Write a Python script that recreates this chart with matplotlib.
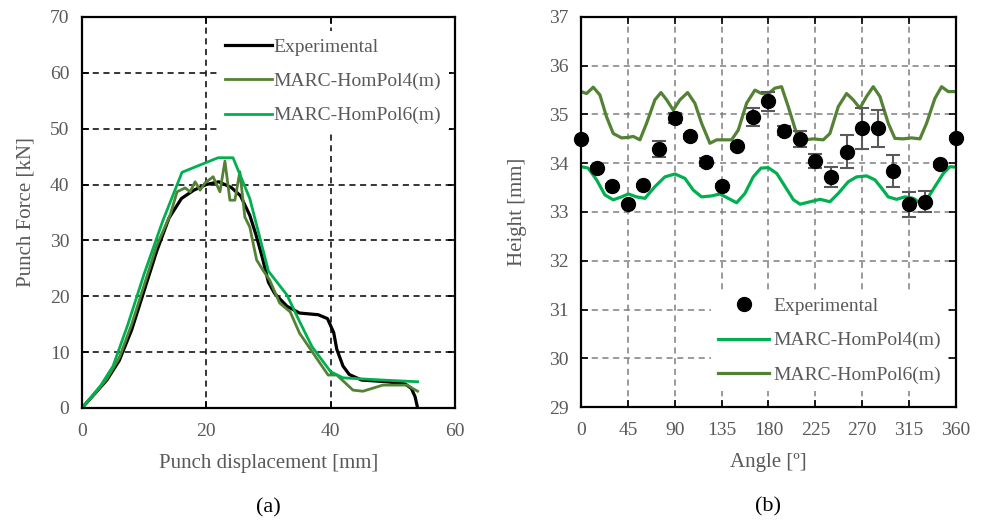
import numpy as np
import matplotlib
matplotlib.use("Agg")
import matplotlib.pyplot as plt

plt.rcParams['font.family'] = ['Liberation Serif', 'DejaVu Serif']

# ---- panel (a): punch force vs displacement
exp_x = [0, 2, 4, 6, 8, 10, 12, 14, 16, 18, 20, 22, 24, 25.5, 27, 28, 29, 30, 31, 33,
         35, 38, 39.5, 40.5, 41, 42, 43, 45, 49, 52, 53, 53.6, 54]
exp_y = [0, 2.5, 5, 8.5, 14, 21, 28, 34, 37.5, 39, 40, 40.5, 39.5, 38, 34.5, 31, 27, 22.5,
         20.5, 18.2, 17, 16.7, 16, 13.5, 10.5, 7.5, 6, 5, 4.7, 4.3, 3.5, 2, 0]

p4_x = [0, 2, 4, 6, 8, 10, 12, 14.2, 15.3, 16.6, 17.4, 18.2, 19, 19.8, 21.1, 22.2, 23, 23.8,
        24.6, 25.4, 26.2, 27, 28.1, 29.1, 30.2, 31.8, 33.5, 35, 37.2, 39.6, 41, 43.6, 45.2,
        48.4, 52.3, 54]
p4_y = [0, 2.5, 5.2, 9, 15, 22, 29, 34.6, 38.7, 39.4, 38.7, 40.5, 39, 40.3, 41.4, 38.7, 44.2,
        37.2, 37.2, 42.3, 34.2, 32.4, 26.5, 24.7, 22.9, 18.8, 17.2, 13.4, 9.8, 5.9, 5.9, 3.2,
        3.0, 4.1, 4.1, 3.0]

p6_x = [0, 3, 5, 7.4, 10, 13, 16.1, 20.1, 21.9, 24.3, 27, 30, 33, 35, 37, 40, 42, 48.4, 54]
p6_y = [0, 4, 7.5, 15, 24, 33.5, 42.2, 44, 44.8, 44.8, 37.5, 24.5, 20.2, 15.5, 11, 6.5, 5.4,
        5.0, 4.7]

# ---- panel (b): height vs angle
ang = np.arange(0, 361, 15)
h_exp = [34.50, 33.90, 33.54, 33.16, 33.55, 34.29, 34.93, 34.55, 34.02, 33.54, 34.35, 34.95,
         35.27, 34.67, 34.50, 34.05, 33.72, 34.24, 34.72, 34.72, 33.84, 33.16, 33.21, 33.98,
         34.52]
h_err = [0.03, 0.05, 0.03, 0.03, 0.03, 0.17, 0.1, 0.05, 0.08, 0.03, 0.05, 0.19, 0.2, 0.1,
         0.17, 0.14, 0.21, 0.34, 0.42, 0.38, 0.33, 0.26, 0.22, 0.05, 0.03]

b4_x = [0, 7, 15, 23, 31, 39, 45.4, 53.4, 61.4, 71, 80.6, 90.2, 99.8, 107.8, 115.8, 125.4,
        133.4, 141.4, 149.4, 157.4, 165.4, 172.8, 179.8, 188, 196, 204, 210.4, 220, 229.6,
        239, 247, 256.6, 264.6, 274.2, 282.2, 288.6, 295, 303, 311, 319, 325.4, 331.8,
        339.8, 347.8, 354.2, 360]
b4_y = [33.93, 33.90, 33.66, 33.35, 33.25, 33.31, 33.37, 33.31, 33.28, 33.52, 33.72, 33.78,
        33.69, 33.45, 33.31, 33.33, 33.37, 33.28, 33.19, 33.38, 33.72, 33.90, 33.91, 33.79,
        33.52, 33.25, 33.16, 33.21, 33.26, 33.21, 33.38, 33.62, 33.72, 33.74, 33.66, 33.49,
        33.31, 33.26, 33.31, 33.28, 33.19, 33.25, 33.52, 33.79, 33.93, 33.92]

b6_x = [0, 5.4, 11.8, 18.2, 24.6, 31, 39, 45.4, 50.2, 56.6, 63, 71, 76.8, 82.3, 88.6, 95,
        102.4, 109.4, 115.8, 123.8, 130.3, 136.6, 144.6, 151, 159, 167, 173.4, 180, 186.2,
        192.6, 199, 207, 215, 223, 232.6, 239, 247, 255, 261.4, 267.8, 274.2, 280.6, 287,
        295, 301.4, 309.4, 317.4, 325.4, 331.8, 339.8, 346.2, 352.6, 360]
b6_y = [35.47, 35.43, 35.56, 35.40, 34.95, 34.61, 34.52, 34.53, 34.55, 34.48, 34.82, 35.30,
        35.45, 35.30, 35.09, 35.30, 35.45, 35.23, 34.82, 34.41, 34.48, 34.48, 34.48, 34.68,
        35.23, 35.50, 35.43, 35.43, 35.54, 35.57, 35.16, 34.61, 34.48, 34.50, 34.48, 34.61,
        35.16, 35.43, 35.30, 35.13, 35.37, 35.57, 35.37, 34.82, 34.51, 34.50, 34.52, 34.50,
        34.82, 35.33, 35.57, 35.47, 35.47]

dark_green = '#548235'
bright_green = '#00B050'
grey_txt = '#595959'

fig = plt.figure(figsize=(9.84, 5.21), dpi=100)
ax1 = fig.add_axes([0.0833, 0.2169, 0.379, 0.7505])
ax2 = fig.add_axes([0.5904, 0.2188, 0.3811, 0.7486])

# panel (a)
ax1.plot(exp_x, exp_y, color='black', lw=2.3, label='Experimental')
ax1.plot(p4_x, p4_y, color=dark_green, lw=2.0, label='MARC-HomPol4(m)')
ax1.plot(p6_x, p6_y, color=bright_green, lw=2.0, label='MARC-HomPol6(m)')
ax1.set_xlim(0, 60)
ax1.set_ylim(0, 70)
ax1.set_xticks([0, 20, 40, 60])
ax1.set_yticks(range(0, 71, 10))
ax1.grid(True, color='black', ls=(0, (4, 3)), lw=1.1)
ax1.set_xlabel('Punch displacement [mm]', fontsize=15, color=grey_txt, labelpad=10)
ax1.set_ylabel('Punch Force [kN]', fontsize=15, color=grey_txt, labelpad=10)
leg1 = ax1.legend(loc='upper right', bbox_to_anchor=(0.995, 0.975), frameon=True,
                  fontsize=14, handlelength=2.4, handletextpad=0.1, labelspacing=0.85,
                  borderaxespad=0.2)
leg1.get_frame().set_linewidth(0)
leg1.get_frame().set_alpha(1)
for t in leg1.get_texts():
    t.set_color(grey_txt)
ax1.text(0.5, -0.255, '(a)', transform=ax1.transAxes, ha='center', va='center',
         fontsize=16, color='black')

# panel (b)
ax2.errorbar(ang, h_exp, yerr=h_err, fmt='none', ecolor=grey_txt, elinewidth=1.5,
             capsize=5, capthick=1.5, zorder=3)
ax2.plot(ang, h_exp, 'o', color='black', ms=10, label='Experimental', zorder=4, clip_on=False)
ax2.plot(b4_x, b4_y, color=bright_green, lw=2.3, label='MARC-HomPol4(m)')
ax2.plot(b6_x, b6_y, color=dark_green, lw=2.3, label='MARC-HomPol6(m)')
ax2.set_xlim(0, 360)
ax2.set_ylim(29, 37)
ax2.set_xticks(range(0, 361, 45))
ax2.set_yticks(range(29, 38))
ax2.grid(True, color='#7f7f7f', ls=(0, (4, 3)), lw=1.1)
ax2.set_xlabel('Angle [º]', fontsize=15, color=grey_txt, labelpad=10)
ax2.set_ylabel('Height [mm]', fontsize=15, color=grey_txt, labelpad=16)
leg2 = ax2.legend(loc='lower right', bbox_to_anchor=(0.99, 0.03), frameon=True,
                  fontsize=14, handlelength=2.6, handletextpad=0.2, labelspacing=0.85,
                  borderaxespad=0.2)
leg2.get_frame().set_linewidth(0)
leg2.get_frame().set_alpha(1)
for t in leg2.get_texts():
    t.set_color(grey_txt)
ax2.text(0.5, -0.255, '(b)', transform=ax2.transAxes, ha='center', va='center',
         fontsize=16, color='black')

for ax in (ax1, ax2):
    ax.set_axisbelow(True)
    for s in ax.spines.values():
        s.set_color('black')
        s.set_linewidth(1.6)
    ax.tick_params(direction='in', length=5, width=1.2, colors='black',
                   top=True, right=True, labelsize=14, labelcolor=grey_txt)
    ax.tick_params(axis='x', pad=11)
    ax.tick_params(axis='y', pad=9)

fig.savefig('out.png', dpi=100)
